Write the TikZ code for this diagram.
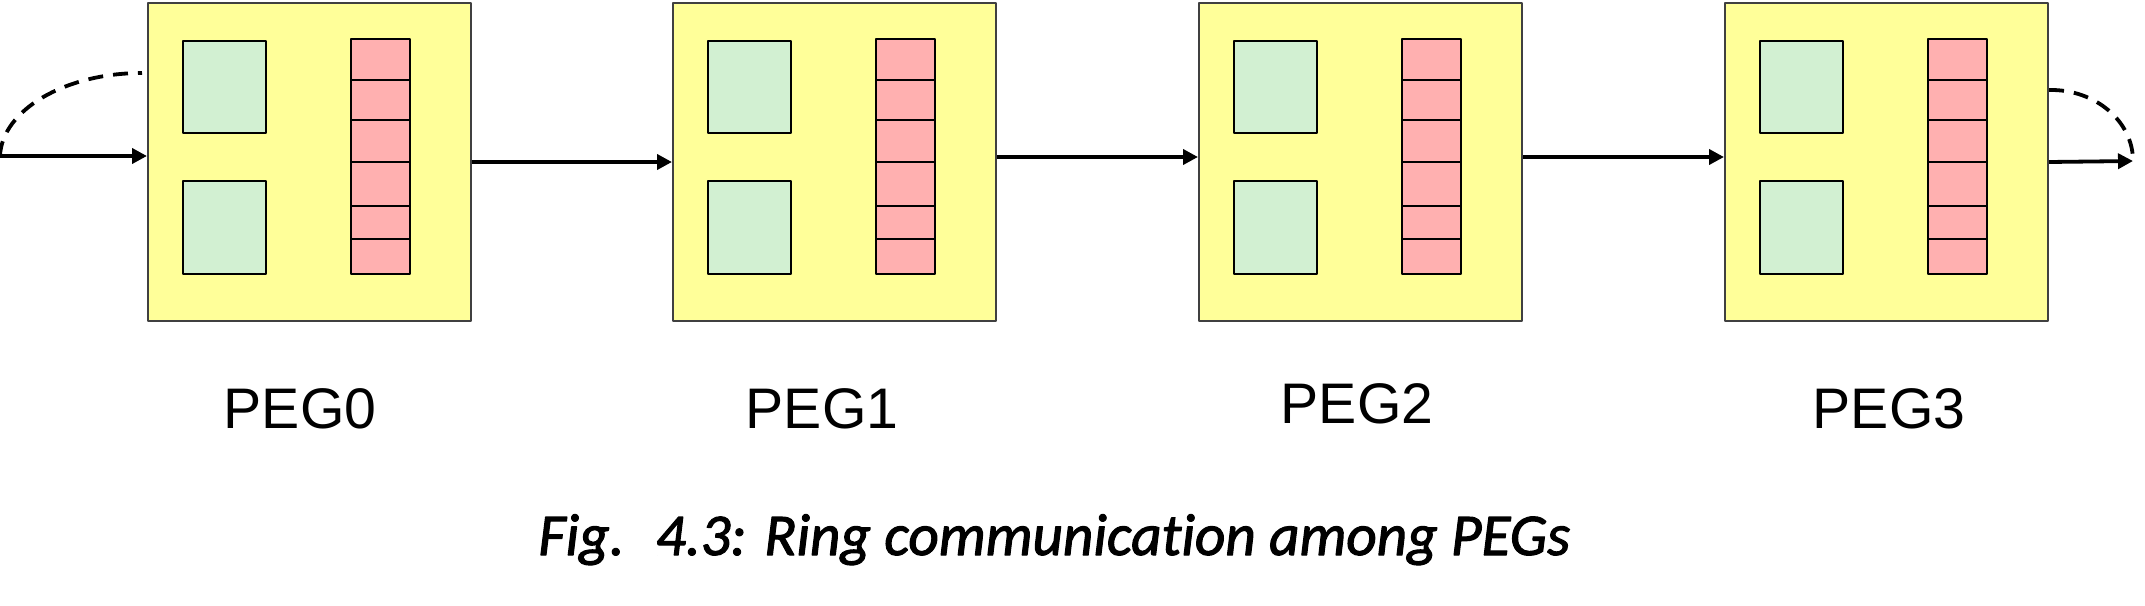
\documentclass[tikz,border=0pt]{standalone}
\usepackage{fontspec}
\setmainfont{Liberation Sans}
\newfontfamily\captionfont[Ligatures=NoCommon,FakeBold=1.8]{Carlito Italic}
\usetikzlibrary{positioning,arrows.meta}
\definecolor{pegyellow}{RGB}{255,255,153}
\definecolor{memgreen}{RGB}{210,240,210}
\definecolor{bufred}{RGB}{255,176,176}
\begin{document}
\begin{tikzpicture}[x=0.5pt,y=-0.5pt,line join=round,>={Triangle[length=7.5pt,width=7.5pt]},
	pegbox/.style={draw=black!75,fill=pegyellow,line width=1pt,minimum width=161.5pt,minimum height=159pt,inner sep=0pt,anchor=north west},
	memblock/.style={draw=black,fill=memgreen,line width=0.9pt},
	bufcell/.style={draw=black,fill=bufred,line width=0.9pt},
	peglabel/.style={anchor=base,inner sep=0pt,font=\fontsize{28.6}{34}\selectfont},
	ringlink/.style={->,line width=1.9pt},
	wraplink/.style={line width=1.9pt,dash pattern=on 7.5pt off 5pt}]
	\useasboundingbox (0,0) rectangle (2145,605);
	% processing element groups
	\foreach \i/\x/\lx/\ly in {0/147/300/428,1/672/822/428,2/1198/1357/423,3/1724/1889/428}{
		\node[pegbox] (peg\i) at (\x,2) {};
		\draw[memblock] (\x+36,41) rectangle (\x+119,133);
		\draw[memblock] (\x+36,181) rectangle (\x+119,274);
		\foreach \a/\b in {39/80,80/120,120/162,162/206,206/239,239/274}
			\draw[bufcell] (\x+204,\a) rectangle (\x+263,\b);
		\node[peglabel] (lab\i) at (\lx,\ly) {PEG\i};
	}
	% ring links
	\coordinate (in) at (0,156);
	\coordinate (out) at (2133,161);
	\draw[ringlink] (in) -- (in -| peg0.west);
	\draw[ringlink] (peg0.east) -- (peg1.west);
	\draw[ringlink] ([yshift=2.5pt]peg1.east) -- ([yshift=2.5pt]peg2.west);
	\draw[ringlink] ([yshift=2.5pt]peg2.east) -- ([yshift=2.5pt]peg3.west);
	\draw[ringlink] (peg3.east) -- (out);
	\draw[wraplink] (in) .. controls (2,110) and (65,73) .. (142,73);
	\draw[wraplink] ([yshift=36pt]peg3.east) .. controls (2095,89) and (2133,121) .. (out);
	% caption
	\node[anchor=base west,inner sep=0pt] (caption) at (538,555) {\captionfont\fontsize{29.6}{36}\selectfont Fig.~ 4.3: Ring communication among PEGs};
\end{tikzpicture}
\end{document}
